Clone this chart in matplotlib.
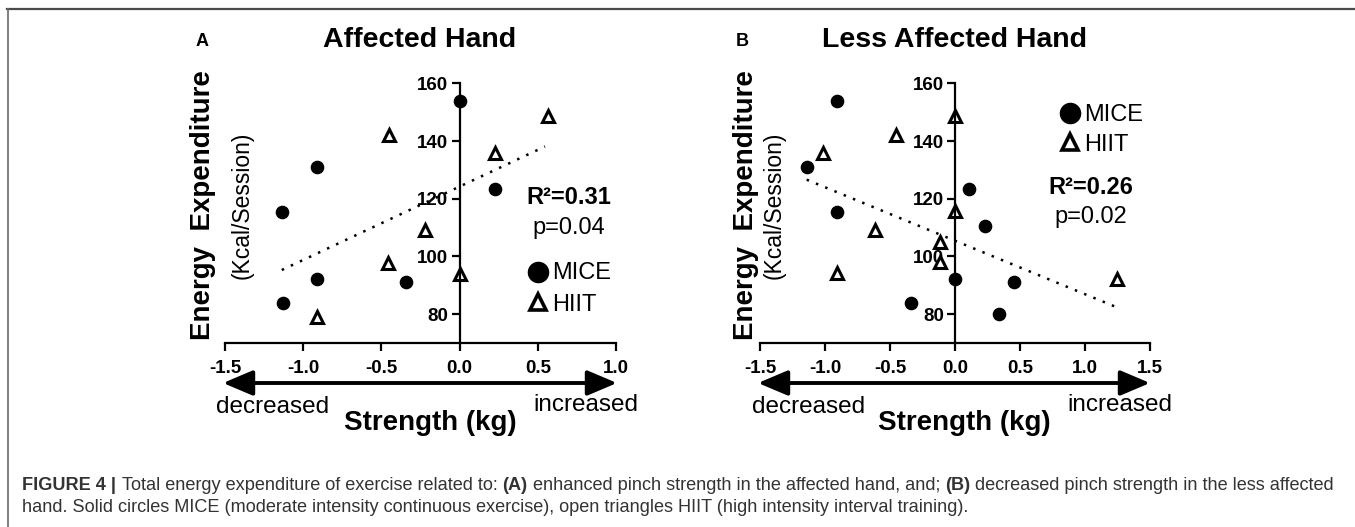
import matplotlib
matplotlib.use("Agg")
import matplotlib.pyplot as plt
from matplotlib.lines import Line2D

plt.rcParams['font.family'] = ['Liberation Sans', 'DejaVu Sans']

W, H = 1355, 527

# ---------------- data ----------------
# Panel A: Affected Hand
a_mice_x = [0.0, -0.91, -1.137, -0.91, -1.127, -0.343, 0.228]
a_mice_y = [154.0, 131.0, 115.3, 92.3, 84.0, 91.2, 123.4]
a_hiit_x = [-0.453, 0.567, 0.228, -0.221, -0.46, 0.0, -0.91]
a_hiit_y = [142.2, 148.7, 135.8, 109.0, 97.8, 93.8, 78.9]
a_fit_x = [-1.137, 0.546]
a_fit_y = [95.3, 138.1]

# Panel B: Less Affected Hand
b_mice_x = [-0.91, -1.141, -0.91, 0.108, 0.231, 0.0, 0.454, -0.341, 0.338]
b_mice_y = [154.0, 131.0, 115.3, 123.5, 110.7, 92.3, 91.2, 83.7, 80.0]
b_hiit_x = [-1.018, -0.454, 0.0, 0.0, -0.615, -0.115, -0.115, -0.91, 1.249]
b_hiit_y = [135.8, 142.2, 148.7, 115.7, 109.0, 105.1, 98.2, 94.4, 92.1]
b_fit_x = [-1.141, 1.249]
b_fit_y = [126.6, 82.3]

a_xticks = [-1.5, -1.0, -0.5, 0.0, 0.5, 1.0]
b_xticks = [-1.5, -1.0, -0.5, 0.0, 0.5, 1.0, 1.5]
yticks = [80, 100, 120, 140, 160]
a_stats = ["R²=0.31", "p=0.04"]
b_stats = ["R²=0.26", "p=0.02"]

fig = plt.figure(figsize=(W / 100, H / 100), dpi=100)


def fx(x):
    return x / W


def fy(y):
    return 1 - y / H


def ftext(x, y, s, **kw):
    kw.setdefault('ha', 'center')
    kw.setdefault('va', 'center')
    return fig.text(fx(x), fy(y), s, **kw)


# frame lines (top and left)
fig.add_artist(Line2D([fx(7), fx(W)], [fy(8.5), fy(8.5)], color='#4a4a4a', lw=1.6))
fig.add_artist(Line2D([fx(8), fx(8)], [fy(8.5), fy(H)], color='#6a6a6a', lw=1.2))


def make_panel(left_px, right_px, xlim, xticks, mice_x, mice_y, hiit_x, hiit_y,
               fit_x, fit_y):
    top_px, bot_px = 83.3, 343
    ax = fig.add_axes([fx(left_px), fy(bot_px), (right_px - left_px) / W,
                       (bot_px - top_px) / H])
    ax.set_xlim(*xlim)
    ax.set_ylim(70, 160)
    ax.plot(fit_x, fit_y, color='black', lw=1.8, linestyle=(0, (1, 3)),
            clip_on=False)
    ax.plot(mice_x, mice_y, 'o', color='black', ms=8.8, clip_on=False)
    ax.plot(hiit_x, hiit_y, '^', mfc='white', mec='black', mew=2.2, ms=8,
            clip_on=False)
    for s in ['top', 'right']:
        ax.spines[s].set_visible(False)
    ax.spines['left'].set_position(('data', 0))
    ax.spines['left'].set_bounds(70, 160)
    for s in ['left', 'bottom']:
        ax.spines[s].set_linewidth(1.6)
    ax.set_xticks(xticks)
    ax.set_xticklabels([f"{t:.1f}" for t in xticks])
    ax.set_yticks(yticks)
    ax.tick_params(axis='both', direction='out', width=1.6, length=6,
                   labelsize=13.5)
    ax.tick_params(axis='x', pad=6)
    ax.tick_params(axis='y', pad=2)
    for lab in ax.get_xticklabels() + ax.get_yticklabels():
        lab.set_fontweight('bold')
    ax.patch.set_visible(False)
    return ax


axA = make_panel(225, 616, (-1.5, 1.0), a_xticks, a_mice_x, a_mice_y,
                 a_hiit_x, a_hiit_y, a_fit_x, a_fit_y)
axB = make_panel(760, 1150, (-1.5, 1.5), b_xticks, b_mice_x, b_mice_y,
                 b_hiit_x, b_hiit_y, b_fit_x, b_fit_y)


def arrow(x0, x1, y):
    fig.add_artist(matplotlib.patches.FancyArrowPatch(
        (fx(x0), fy(y)), (fx(x1), fy(y)), transform=fig.transFigure,
        arrowstyle='<|-|>,head_length=1.3,head_width=0.55', mutation_scale=14,
        lw=2.8, color='black', shrinkA=0, shrinkB=0))


arrow(223, 617, 383)
arrow(758, 1150, 383)

# Panel A texts
ftext(202, 42, "A", fontsize=13, fontweight='bold')
ftext(420, 40, "Affected Hand", fontsize=20.5, fontweight='bold')
ftext(203, 205, "Energy  Expenditure", fontsize=20, fontweight='bold', rotation=90)
ftext(242, 205, "(Kcal/Session)", fontsize=16.5, rotation=90)
ftext(569, 198, a_stats[0], fontsize=17, fontweight='bold')
ftext(569, 228, a_stats[1], fontsize=17)
ftext(273, 407, "decreased", fontsize=17.5)
ftext(586, 405, "increased", fontsize=17.5)
ftext(430, 423, "Strength (kg)", fontsize=20, fontweight='bold')

# Panel B texts
ftext(742, 42, "B", fontsize=13, fontweight='bold')
ftext(955, 40, "Less Affected Hand", fontsize=20.5, fontweight='bold')
ftext(746, 205, "Energy  Expenditure", fontsize=20, fontweight='bold', rotation=90)
ftext(774, 205, "(Kcal/Session)", fontsize=16.5, rotation=90)
ftext(1091, 188, b_stats[0], fontsize=17, fontweight='bold')
ftext(1091, 217, b_stats[1], fontsize=17)
ftext(809, 407, "decreased", fontsize=17.5)
ftext(1120, 405, "increased", fontsize=17.5)
ftext(964, 423, "Strength (kg)", fontsize=20, fontweight='bold')


# legends (drawn as markers in figure coords)
def legend(cx, cy1, cy2, tx):
    fig.add_artist(Line2D([fx(cx)], [fy(cy1)], marker='o', color='black', ms=14.5,
                          transform=fig.transFigure))
    fig.add_artist(Line2D([fx(cx)], [fy(cy2)], marker='^', mfc='white',
                          mec='black', mew=2.6, ms=12, transform=fig.transFigure))
    ftext(tx, cy1 + 1.5, "MICE", fontsize=17, ha='left')
    ftext(tx, cy2 + 3, "HIIT", fontsize=17, ha='left')


legend(538, 271.7, 301.7, 552)
legend(1070, 113.3, 141.7, 1084)

# caption
cap_col = '#333333'
cap_fs = 13.1
cap_font = ['Liberation Sans', 'DejaVu Sans']
line1 = [("FIGURE 4 | ", 'bold'),
         ("Total energy expenditure of exercise related to: ", 'normal'),
         ("(A)", 'bold'),
         (" enhanced pinch strength in the affected hand, and; ", 'normal'),
         ("(B)", 'bold'),
         (" decreased pinch strength in the less affected", 'normal')]
line2 = [("hand. Solid circles MICE (moderate intensity continuous exercise), "
          "open triangles HIIT (high intensity interval training).", 'normal')]

renderer = fig.canvas.get_renderer()


def caption_line(parts, y):
    x = 22.5
    for s, wgt in parts:
        t = fig.text(fx(x), fy(y), s, fontsize=cap_fs, fontweight=wgt,
                     family=cap_font, color=cap_col, ha='left', va='center')
        bb = t.get_window_extent(renderer=renderer)
        x += bb.width


caption_line(line1, 485)
caption_line(line2, 508)

fig.savefig("out.png", dpi=100, facecolor='white')
